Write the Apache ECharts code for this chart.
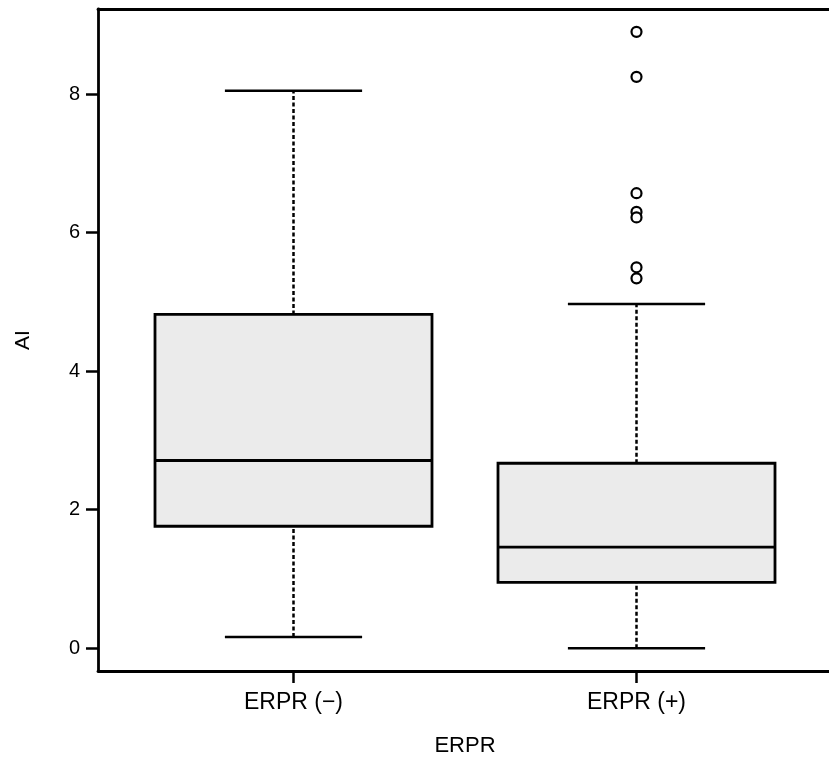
<!DOCTYPE html>
<html lang="en" style="height: 100%">
<head>
<meta charset="utf-8">
<title>AI by ERPR</title>
</head>
<body style="height: 100%; margin: 0; background: #fff">
<div id="container" style="width: 829px; height: 763px"></div>

<script type="text/javascript" src="https://cdn.jsdelivr.net/npm/echarts/dist/echarts.min.js"></script>

<script type="text/javascript">

var categories = ['ERPR (\u2212)', 'ERPR (+)'];
var whiskerLow = [0.16, 0.0];
var q1 = [1.76, 0.95];
var median = [2.71, 1.46];
var q3 = [4.82, 2.67];
var whiskerHigh = [8.05, 4.97];
// outliers of ERPR (+)
var outliersPos = [8.90, 8.25, 6.57, 6.30, 6.22, 5.50, 5.34];
var yMin = -0.33, yMax = 9.23;
var yTicks = [0, 2, 4, 6, 8];

var dom = document.getElementById('container');
var myChart = echarts.init(dom);

var font = 'Liberation Sans, Arial, sans-serif';
var frameLine = { show: true, onZero: false, lineStyle: { color: '#000', width: 2.8 } };

var boxData = categories.map(function (c, i) {
    // whiskers drawn separately (dashed), so box-only here
    return [q1[i], q1[i], median[i], q3[i], q3[i]];
});
var whiskerData = categories.map(function (c, i) {
    return [i, whiskerLow[i], q1[i], q3[i], whiskerHigh[i]];
});
var outlierData = outliersPos.map(function (v) { return [1, v]; });

var option = {
    animation: false,
    backgroundColor: '#fff',
    grid: [
        // frame + y axis
        { left: 98, right: -5, top: 9, bottom: 92 },
        // data area
        { left: 122, right: 21, top: 9, bottom: 92 }
    ],
    xAxis: [
        {
            gridIndex: 0, type: 'category', data: categories, position: 'top',
            axisLine: frameLine, axisTick: { show: false }, axisLabel: { show: false }
        },
        {
            gridIndex: 1,
            type: 'category',
            data: categories,
            axisLine: frameLine,
            axisTick: { show: true, alignWithLabel: true, length: 12, lineStyle: { color: '#000', width: 2.5 } },
            axisLabel: { color: '#000', fontSize: 23, fontFamily: font, margin: 20 },
            name: 'ERPR',
            nameLocation: 'middle',
            nameGap: 64,
            nameTextStyle: { color: '#000', fontSize: 22, fontFamily: font }
        },
        {
            gridIndex: 0, type: 'category', data: categories, position: 'bottom',
            axisLine: frameLine, axisTick: { show: false }, axisLabel: { show: false }
        }
    ],
    yAxis: [
        {
            gridIndex: 0,
            type: 'value',
            min: yMin,
            max: yMax,
            axisLine: frameLine,
            splitLine: { show: false },
            axisTick: { show: true, length: 12, customValues: yTicks, lineStyle: { color: '#000', width: 2.5 } },
            axisLabel: { customValues: yTicks, color: '#000', fontSize: 20, fontFamily: font, margin: 18 },
            name: 'AI',
            nameLocation: 'middle',
            nameGap: 64,
            nameTextStyle: { color: '#000', fontSize: 21, fontFamily: font }
        },
        { gridIndex: 1, type: 'value', min: yMin, max: yMax, show: false }
    ],
    series: [
        {
            type: 'custom',
            xAxisIndex: 1,
            yAxisIndex: 1,
            data: whiskerData,
            renderItem: function (params, api) {
                var x = api.coord([api.value(0), api.value(1)])[0];
                var half = api.size([1, 0])[0] * 0.2;
                var yLow = api.coord([api.value(0), api.value(1)])[1];
                var yQ1 = api.coord([api.value(0), api.value(2)])[1];
                var yQ3 = api.coord([api.value(0), api.value(3)])[1];
                var yHigh = api.coord([api.value(0), api.value(4)])[1];
                var dashed = { stroke: '#000', lineWidth: 2.5, lineDash: [4, 2.5] };
                var solid = { stroke: '#000', lineWidth: 2.5 };
                return {
                    type: 'group',
                    children: [
                        { type: 'line', shape: { x1: x, y1: yQ3, x2: x, y2: yHigh }, style: dashed },
                        { type: 'line', shape: { x1: x, y1: yLow, x2: x, y2: yQ1 }, style: dashed },
                        { type: 'line', shape: { x1: x - half, y1: yHigh, x2: x + half, y2: yHigh }, style: solid },
                        { type: 'line', shape: { x1: x - half, y1: yLow, x2: x + half, y2: yLow }, style: solid }
                    ]
                };
            }
        },
        {
            type: 'boxplot',
            xAxisIndex: 1,
            yAxisIndex: 1,
            data: boxData,
            boxWidth: [277, 277],
            itemStyle: { color: '#ebebeb', borderColor: '#000', borderWidth: 2.8 }
        },
        {
            type: 'scatter',
            xAxisIndex: 1,
            yAxisIndex: 1,
            data: outlierData,
            symbol: 'circle',
            symbolSize: 10,
            itemStyle: { color: '#fff', borderColor: '#000', borderWidth: 2.2, opacity: 1 }
        }
    ]
};

myChart.setOption(option);
window.addEventListener('resize', myChart.resize);
</script>
</body>
</html>
